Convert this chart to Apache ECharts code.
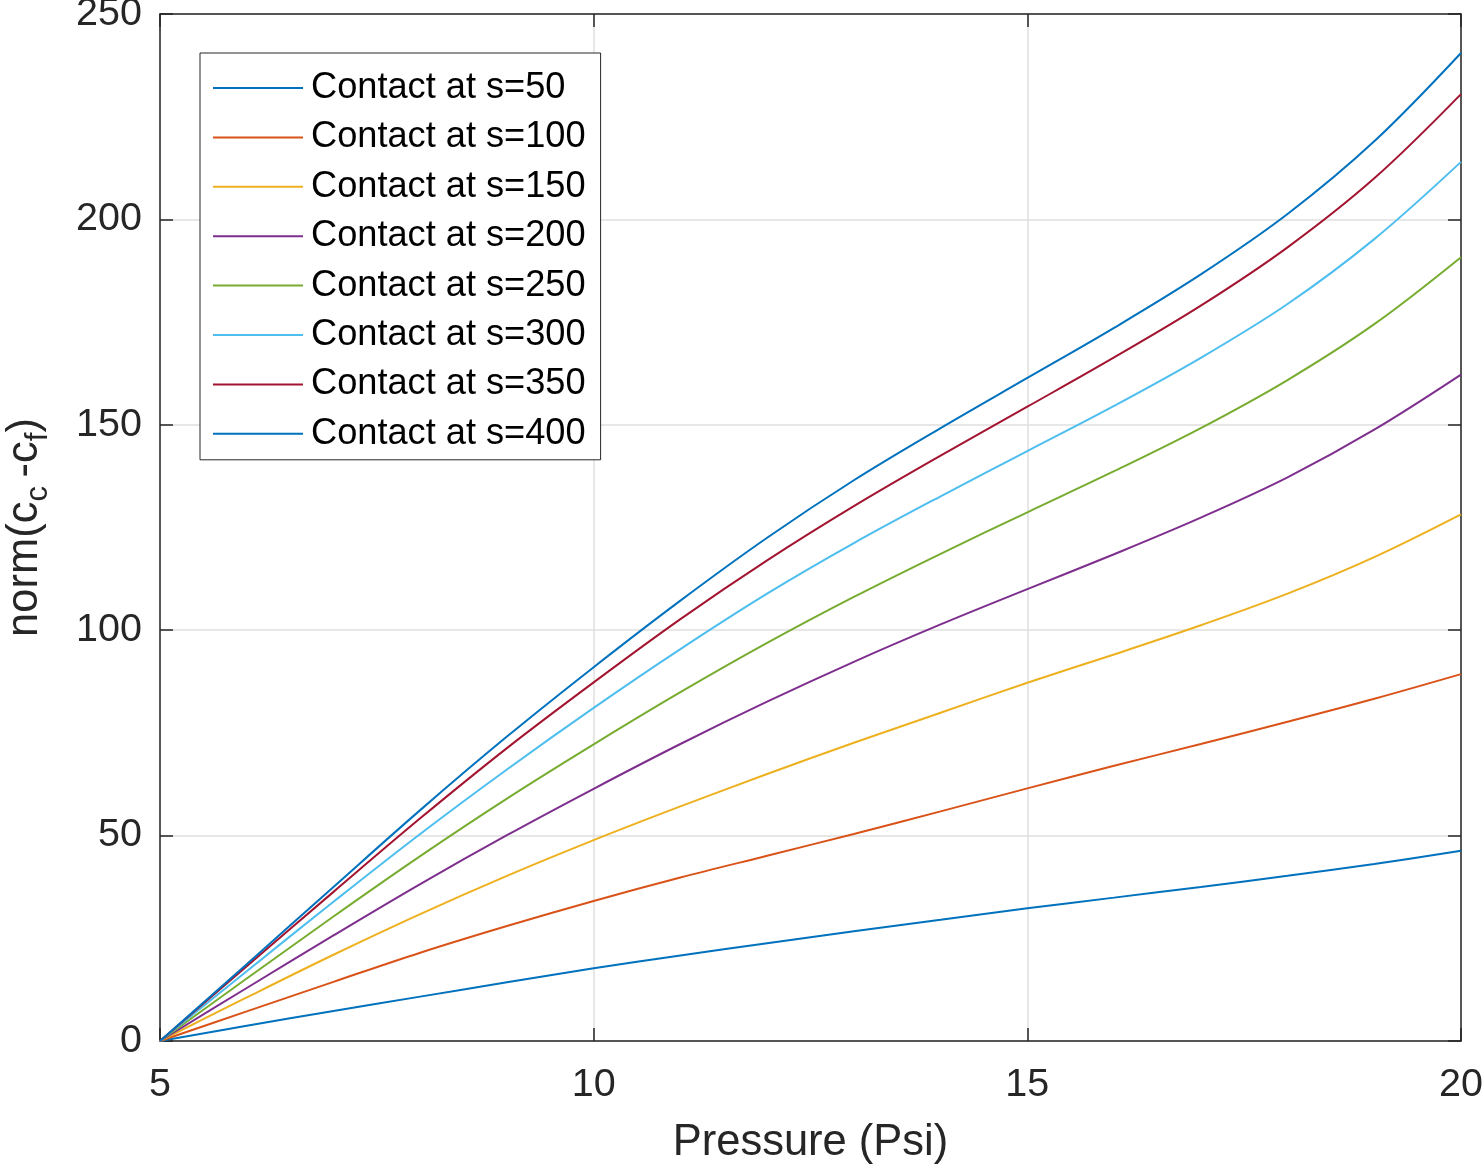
<!DOCTYPE html>
<html>
<head>
<meta charset="utf-8">
<title>norm(cc-cf) vs Pressure</title>
<script src="https://cdn.jsdelivr.net/npm/echarts@6/dist/echarts.min.js"></script>
<style>
    html, body { margin: 0; padding: 0; background: #fff; }
    #main { width: 1483px; height: 1167px; }
</style>
</head>
<body>
<div id="main"></div>
<script>
// 压力 (Psi)
var pressure = [5, 6, 7, 8, 9, 10, 11, 12, 13, 14, 15, 16, 17, 18, 19, 20];

// norm(cc-cf) for each contact position
var s50  = [0, 3.7, 7.3, 10.8, 14.3, 17.7, 20.8, 23.8, 26.7, 29.5, 32.3, 34.9, 37.5, 40.2, 43.1, 46.3];
var s100 = [0, 7.2, 14.4, 21.5, 28.0, 34.1, 39.8, 45.1, 50.4, 55.9, 61.5, 67.0, 72.3, 77.7, 83.3, 89.3];
var s150 = [0, 10.6, 21.0, 30.9, 40.2, 48.9, 57.1, 65.0, 72.6, 79.9, 87.2, 94.1, 101.2, 108.9, 117.8, 128.2];
var s200 = [0, 12.9, 25.7, 38.2, 50.1, 61.4, 72.3, 82.6, 92.3, 101.4, 110.0, 118.5, 127.4, 137.2, 148.8, 162.2];
var s250 = [0, 15.2, 30.3, 45.0, 59.0, 72.2, 84.9, 96.9, 108.1, 118.6, 128.7, 138.7, 149.2, 160.9, 174.5, 190.8];
var s300 = [0, 17.0, 33.9, 50.4, 66.1, 81.1, 95.4, 108.9, 121.2, 132.6, 143.6, 154.6, 166.3, 179.4, 195.2, 214.0];
var s350 = [0, 18.2, 36.3, 54.2, 71.3, 87.3, 102.7, 117.0, 130.2, 142.5, 154.4, 166.4, 179.0, 193.2, 210.0, 230.5];
var s400 = [0, 18.7, 37.5, 56.2, 74.1, 91.0, 107.2, 122.5, 136.5, 149.2, 161.4, 173.6, 186.6, 201.3, 219.0, 240.5];

var seriesNames = ['Contact at s=50', 'Contact at s=100', 'Contact at s=150', 'Contact at s=200',
    'Contact at s=250', 'Contact at s=300', 'Contact at s=350', 'Contact at s=400'];
var seriesValues = [s50, s100, s150, s200, s250, s300, s350, s400];

// MATLAB 默认配色
var colors = ['#0072BD', '#D95319', '#EDB120', '#7E2F8E', '#77AC30', '#4DBEEE', '#A2142F', '#0072BD'];

var font = '"Liberation Sans", Arial, Helvetica, sans-serif';
var axisColor = '#262626';
var gridColor = '#dfdfdf';

var myChart = echarts.init(document.getElementById('main'));

function makeSeries(name, values, i) {
    return {
        name: name,
        type: 'line',
        xAxisIndex: 0,
        yAxisIndex: 0,
        data: pressure.map(function (p, k) { return [p, values[k]]; }),
        smooth: 0.35,
        symbol: 'none',
        showSymbol: false,
        lineStyle: { color: colors[i], width: 2 },
        itemStyle: { color: colors[i] },
        emphasis: { disabled: true },
        animation: false
    };
}

var option = {
    backgroundColor: '#fff',
    animation: false,
    grid: {
        left: 160,
        right: 22,
        top: 14,
        bottom: 126,
        containLabel: false,
        outerBoundsMode: 'none'
    },

    // 图例
    legend: {
        orient: 'vertical',
        left: 200,
        top: 53,
        icon: 'rect',
        itemWidth: 90,
        itemHeight: 2,
        itemGap: 9.4,
        padding: [15, 15, 6, 13],
        backgroundColor: '#fff',
        borderColor: axisColor,
        borderWidth: 1,
        borderRadius: 0,
        textStyle: {
            fontFamily: font,
            fontSize: 36.2,
            lineHeight: 40,
            color: '#000',
            padding: [0, 0, 0, 3]
        },
        data: seriesNames
    },

    xAxis: [
        {
            type: 'value',
            position: 'bottom',
            min: 5,
            max: 20,
            interval: 5,
            name: 'Pressure (Psi)',
            nameLocation: 'middle',
            nameGap: 80,
            nameMoveOverlap: false,
            nameTextStyle: { fontFamily: font, fontSize: 43.5, color: axisColor },
            axisLine: { show: true, lineStyle: { color: axisColor, width: 1.5 } },
            axisTick: { show: true, inside: true, length: 13, lineStyle: { color: axisColor, width: 1.5 } },
            axisLabel: { fontFamily: font, fontSize: 39.5, color: axisColor, margin: 24, showMinLabel: true, showMaxLabel: true },
            splitLine: { show: true, lineStyle: { color: gridColor, width: 1.5 } }
        },
        {
            type: 'value',
            position: 'top',
            min: 5,
            max: 20,
            interval: 5,
            axisLine: { show: true, onZero: false, lineStyle: { color: axisColor, width: 1.5 } },
            axisTick: { show: true, inside: true, length: 13, lineStyle: { color: axisColor, width: 1.5 } },
            axisLabel: { show: false },
            splitLine: { show: false }
        }
    ],

    yAxis: [
        {
            type: 'value',
            position: 'left',
            min: 0,
            max: 250,
            interval: 50,
            name: '{m|norm(c}{s|c }{m|-c}{s|f}{m|)}',
            nameLocation: 'middle',
            nameRotate: 90,
            nameGap: 106,
            nameMoveOverlap: false,
            nameTextStyle: {
                fontFamily: font,
                fontSize: 43.5,
                color: axisColor,
                rich: {
                    m: { fontFamily: font, fontSize: 43.5, color: axisColor },
                    s: { fontFamily: font, fontSize: 31, color: axisColor, padding: [28, 0, 0, 0] }
                }
            },
            axisLine: { show: true, onZero: false, lineStyle: { color: axisColor, width: 1.5 } },
            axisTick: { show: true, inside: true, length: 13, lineStyle: { color: axisColor, width: 1.5 } },
            axisLabel: { fontFamily: font, fontSize: 39.5, color: axisColor, margin: 18, showMinLabel: true, showMaxLabel: true },
            splitLine: { show: true, lineStyle: { color: gridColor, width: 1.5 } }
        },
        {
            type: 'value',
            position: 'right',
            min: 0,
            max: 250,
            interval: 50,
            axisLine: { show: true, onZero: false, lineStyle: { color: axisColor, width: 1.5 } },
            axisTick: { show: true, inside: true, length: 13, lineStyle: { color: axisColor, width: 1.5 } },
            axisLabel: { show: false },
            splitLine: { show: false }
        }
    ],

    series: seriesNames.map(function (n, i) { return makeSeries(n, seriesValues[i], i); })
};

myChart.setOption(option);
window.onresize = myChart.resize;
</script>
</body>
</html>
